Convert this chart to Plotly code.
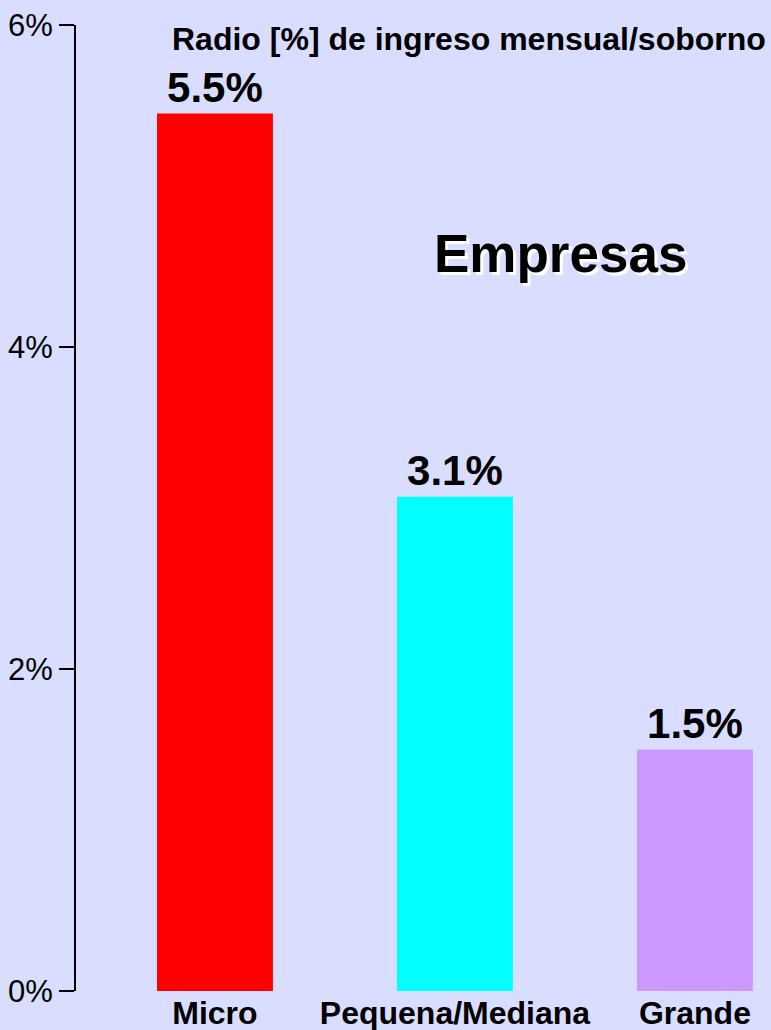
import plotly.graph_objects as go

categories = ["Micro", "Pequena/Mediana", "Grande"]
ratios = [5.45, 3.07, 1.5]
ratio_labels = ["5.5%", "3.1%", "1.5%"]
bar_colors = ["#ff0000", "#00ffff", "#cc99ff"]
y_ticks = [0, 2, 4, 6]
y_tick_labels = ["0%", "2%", "4%", "6%"]

bg = "#d9ddff"
font_family = "Liberation Sans, Arial, sans-serif"

fig = go.Figure(
    go.Bar(
        x=categories,
        y=ratios,
        text=ratio_labels,
        textposition="outside",
        textfont=dict(size=42, color="black", family=font_family, weight="bold"),
        constraintext="none",
        cliponaxis=False,
        marker=dict(color=bar_colors, line=dict(width=0)),
        width=0.483,
        hoverinfo="skip",
    )
)

fig.update_xaxes(
    type="category",
    range=[-0.579, 2.317],
    showgrid=False,
    zeroline=False,
    showline=False,
    ticks="",
    tickfont=dict(size=32, color="black", family=font_family, weight="bold"),
)
fig.update_yaxes(
    range=[0, 6],
    tickvals=y_ticks,
    ticktext=y_tick_labels,
    showgrid=False,
    zeroline=False,
    showline=True,
    linecolor="black",
    linewidth=2,
    ticks="outside",
    ticklen=15,
    tickwidth=2,
    tickcolor="black",
    tickfont=dict(size=31, color="black", family=font_family),
)

fig.add_annotation(
    text="<b>Radio [%] de ingreso mensual/soborno</b>",
    xref="paper", yref="paper",
    x=0.565, y=0.985, xanchor="center", yanchor="middle",
    showarrow=False,
    font=dict(size=32, color="black", family=font_family),
)
fig.add_annotation(
    text="<b>Empresas</b>",
    xref="paper", yref="paper",
    x=0.697, y=0.763, xanchor="center", yanchor="middle",
    showarrow=False,
    font=dict(size=53, color="black", family=font_family,
              shadow="3px 3px 0px white"),
)

fig.update_layout(
    width=771,
    height=1030,
    margin=dict(l=76, r=0, t=25, b=39),
    paper_bgcolor=bg,
    plot_bgcolor=bg,
    showlegend=False,
    font=dict(family=font_family, color="black"),
)

fig.write_html(
    "out.html",
    config={"displayModeBar": False},
    post_script="document.body.style.margin='0';",
)
